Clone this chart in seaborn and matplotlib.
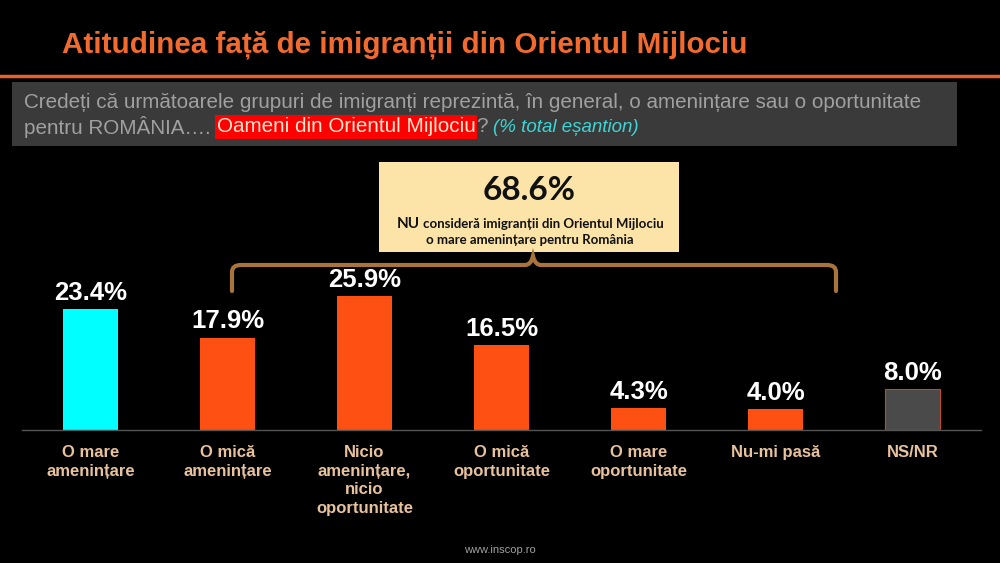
import numpy as np
import matplotlib
matplotlib.use("Agg")
import matplotlib.pyplot as plt
import seaborn as sns
from matplotlib.patches import Rectangle, PathPatch
from matplotlib.path import Path

# values
categories = ["O mare amenințare", "O mică amenințare", "Nicio amenințare, nicio oportunitate",
              "O mică oportunitate", "O mare oportunitate", "Nu-mi pasă", "NS/NR"]
tick_labels = ["O mare\namenințare", "O mică\namenințare", "Nicio\namenințare,\nnicio\noportunitate",
               "O mică\noportunitate", "O mare\noportunitate", "Nu-mi pasă", "NS/NR"]
values = [23.4, 17.9, 25.9, 16.5, 4.3, 4.0, 8.0]
bar_colors = ["#00FFFF", "#FF5014", "#FF5014", "#FF5014", "#FF5014", "#FF5014", "#4A4A4A"]
total_not_threat = 68.6

sns.set_style("dark")
plt.rcParams['font.family'] = ['Liberation Sans', 'DejaVu Sans']
calib = ['Lato', 'DejaVu Sans']

fig = plt.figure(figsize=(10, 5.63), dpi=100, facecolor="black")

# overlay in pixel coordinates for the slide decorations
ov = fig.add_axes([0, 0, 1, 1])
ov.set_xlim(0, 1000)
ov.set_ylim(563, 0)
ov.axis("off")

ov.text(62, 45, "Atitudinea față de imigranții din Orientul Mijlociu", color="#F26A2E",
        fontsize=21.3, fontweight="bold", va="center", ha="left")
ov.plot([0, 1000], [76, 76], color="#E8602C", lw=2.5)

ov.add_patch(Rectangle((12, 82), 945, 64, facecolor="#3A3A3A", edgecolor="none"))
ov.text(24, 102, "Credeți că următoarele grupuri de imigranți reprezintă, în general, o amenințare sau o oportunitate",
        color="#A0A0A0", fontsize=14.9, va="center", ha="left")

# second line built from pieces
fig.canvas.draw()
r = fig.canvas.get_renderer()
inv = ov.transData.inverted()
def put(x, y, s, size=14.9, va="center", **kw):
    t = ov.text(x, y, s, va=va, ha="left", fontsize=size, **kw)
    bb = t.get_window_extent(renderer=r)
    return inv.transform((bb.x1, bb.y0))[0]

x = put(24, 127, "pentru ROMÂNIA….", color="#A0A0A0")
x = put(x + 6, 127, "Oameni din Orientul Mijlociu", color="#FFE6CC",
        bbox=dict(facecolor="#FF0000", edgecolor="none", pad=1.5))
x = put(x + 1, 127, "?", color="#A0A0A0")
x = put(x + 5, 127, "(% total eșantion)", size=13.5, color="#3DD6D6", style="italic")

# callout box
ov.add_patch(Rectangle((379, 162), 300, 90, facecolor="#FCE4A8", edgecolor="none"))
ov.text(529, 190, f"{total_not_threat:.1f}%", color="#111111", fontsize=24, fontweight="bold",
        ha="center", va="center", family=calib)
# first line with a larger "NU", centred as a whole
probe1 = ov.text(0, 0, "NU", fontsize=11, fontweight="bold", family=calib)
probe2 = ov.text(0, 0, " consideră imigranții din Orientul Mijlociu", fontsize=9.5,
                 fontweight="bold", family=calib)
w1 = probe1.get_window_extent(renderer=r).width
w2 = probe2.get_window_extent(renderer=r).width
probe1.remove()
probe2.remove()
x0 = 530 - (w1 + w2) / 2
x = put(x0, 227.5, "NU", size=11, va="baseline", color="#111111", fontweight="bold", family=calib)
put(x + 3, 227.5, "consideră imigranții din Orientul Mijlociu", size=9.5, va="baseline",
    color="#111111", fontweight="bold", family=calib)
ov.text(530, 240, "o mare amenințare pentru România", color="#111111", fontsize=9.5,
        fontweight="bold", ha="center", va="center", family=calib)

# brace
brace = Path(
    [(232, 291), (232, 272), (232, 265), (241, 265),
     (525, 265), (531, 265), (533, 256), (535, 265), (541, 265),
     (827, 265), (836, 265), (836, 272), (836, 291)],
    [Path.MOVETO, Path.LINETO, Path.CURVE3, Path.CURVE3,
     Path.LINETO, Path.CURVE3, Path.CURVE3, Path.CURVE3, Path.CURVE3,
     Path.LINETO, Path.CURVE3, Path.CURVE3, Path.LINETO])
ov.add_patch(PathPatch(brace, facecolor="none", edgecolor="#A8743C", lw=3, capstyle="round"))

ov.text(500, 550, "www.inscop.ro", color="#A0A0A0", fontsize=8, ha="center", va="center")

# bar chart
ax = fig.add_axes([0.022, 1 - 430 / 563, 0.959, 30 * 5.16 / 563])
ax.set_facecolor("none")
sns.barplot(x=categories, y=values, hue=categories, palette=bar_colors, legend=False,
            width=0.4, ax=ax, saturation=1, linewidth=0, edgecolor="none")
for p, c in zip(ax.patches, bar_colors):
    if c == "#4A4A4A":
        p.set_edgecolor("#C04A28")
        p.set_linewidth(0.8)
for i, v in enumerate(values):
    ax.annotate(f"{v:.1f}%", (i, v), xytext=(0, 3), textcoords="offset points",
                ha="center", va="bottom", color="white", fontsize=18.5, fontweight="bold")
ax.set_xlim(-0.5, 6.5)
ax.set_ylim(0, 30)
ax.set_yticks([])
ax.set_xticks(range(len(categories)))
ax.set_xticklabels(tick_labels, color="#E8C29C", fontsize=12, fontweight="bold",
                   va="top", linespacing=1.3)
ax.tick_params(axis="x", which="major", length=0, pad=11)
ax.set_xticks(np.arange(-0.5, 7, 1), minor=True)
ax.tick_params(axis="x", which="minor", length=5, color="#555555", width=1)
ax.set_xlabel("")
ax.set_ylabel("")
ax.grid(False)
for s in ["top", "left", "right"]:
    ax.spines[s].set_visible(False)
ax.spines["bottom"].set_visible(True)
ax.spines["bottom"].set_color("#555555")
ax.spines["bottom"].set_linewidth(1)

fig.savefig("out.png", dpi=100, facecolor="black")
